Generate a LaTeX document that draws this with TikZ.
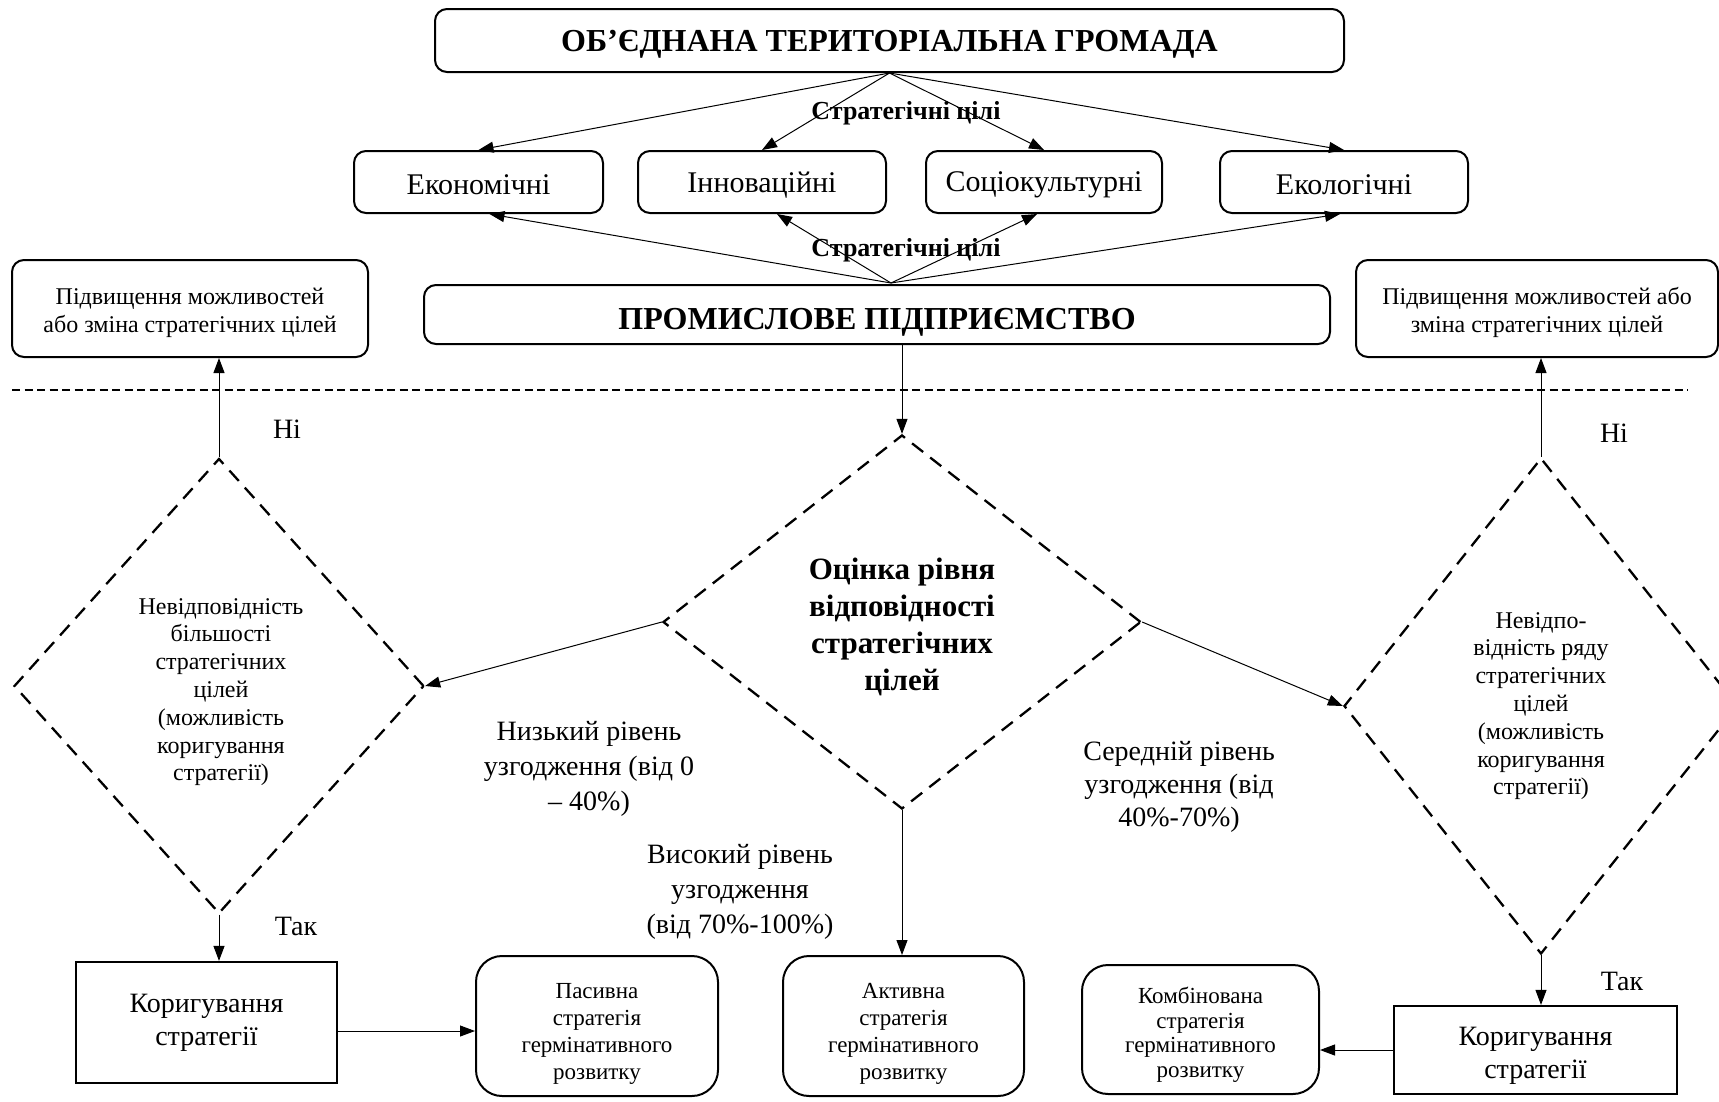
\documentclass[tikz,border=0pt]{standalone}
\usepackage{fontspec}
\setmainfont{Liberation Serif}
\usetikzlibrary{shapes.geometric,arrows.meta}
\newcommand\myfs[2]{\fontsize{#1}{#2}\selectfont}
\begin{document}
\begin{tikzpicture}[x=1pt,y=-1pt,
  box/.style={draw,line width=2pt,rounded corners=12pt,inner sep=0pt,align=center},
  bigbox/.style={draw,line width=2pt,rounded corners=26pt,inner sep=0pt,align=center},
  sqbox/.style={draw,line width=2.2pt,inner sep=0pt,align=center},
  dia/.style={draw,diamond,dash pattern=on 14pt off 9pt,line width=2.3pt,inner sep=0pt,align=center},
  arr/.style={-{Triangle[length=15pt,width=11pt]},line width=1pt},
  lab/.style={align=center,inner sep=0pt},
]
\useasboundingbox (0,0) rectangle (1719,1101);

% top level
\node[box,minimum width=909pt,minimum height=63pt,
  label={[lab,font={\bfseries\myfs{32}{38}},yshift=-4pt]center:ОБ’ЄДНАНА ТЕРИТОРІАЛЬНА ГРОМАДА}] (top) at (889.5,40.5) {};

\node[box,minimum width=249pt,minimum height=62pt,label={[lab,font=\myfs{30}{36},yshift=-3pt]center:Економічні}] (econ) at (478.5,182) {};
\node[box,minimum width=248pt,minimum height=62pt,label={[lab,font=\myfs{30}{36},yshift=-3pt]center:Інноваційні}] (innov) at (762,182) {};
\node[box,minimum width=236pt,minimum height=62pt,label={[lab,font=\myfs{30}{36},yshift=-3pt]center:Соціокультурні}] (socio) at (1044,182) {};
\node[box,minimum width=248pt,minimum height=62pt,label={[lab,font=\myfs{30}{36},yshift=-3pt]center:Екологічні}] (ecol) at (1344,182) {};

\node[box,minimum width=906pt,minimum height=59pt,
  label={[lab,font={\bfseries\myfs{32}{38}},yshift=-8pt]center:ПРОМИСЛОВЕ ПІДПРИЄМСТВО}] (prom) at (877,314.5) {};

\coordinate (psrc) at (891,283);

\draw[arr] (top.south) -- (econ.north);
\draw[arr] (top.south) -- (innov.north);
\draw[arr] (top.south) -- (socio.north);
\draw[arr] (top.south) -- (ecol.north);

\draw[arr] (psrc) -- ([xshift=11pt]econ.south);
\draw[arr] (psrc) -- ([xshift=15pt]innov.south);
\draw[arr] (psrc) -- ([xshift=-7pt]socio.south);
\draw[arr] (psrc) -- ([xshift=-4pt]ecol.south);

\node[lab,font={\bfseries\myfs{26}{30}}] (sc1) at (906,113) {Стратегічні цілі};
\node[lab,font={\bfseries\myfs{26}{30}}] (sc2) at (906,250) {Стратегічні цілі};

% side boxes
\node[box,minimum width=356pt,minimum height=97pt,
  label={[lab,font=\myfs{24}{28},yshift=-4pt]center:{Підвищення можливостей\\або зміна стратегічних цілей}}] (lbox) at (190,308.5) {};
\node[box,minimum width=362pt,minimum height=97pt,
  label={[lab,font=\myfs{24}{28},yshift=-4pt]center:{Підвищення можливостей або\\зміна стратегічних цілей}}] (rbox) at (1537,308.5) {};

% dashed separator
\coordinate (sepL) at (12,390);
\coordinate (sepR) at (1688,390);
\draw[line width=1.3pt,dash pattern=on 8pt off 4.5pt] (sepL) -- (sepR);

% diamonds
\node[dia,minimum width=478pt,minimum height=374pt,
  label={[lab,font={\bfseries\myfs{31}{37}},yshift=-5pt]center:{Оцінка рівня\\відповідності\\стратегічних\\цілей}}] (main) at (902,622) {};
\node[dia,minimum width=410pt,minimum height=455pt,
  label={[lab,font=\myfs{24}{27.8},xshift=2pt,yshift=-6pt]center:{Невідповідність\\більшості\\стратегічних\\цілей\\(можливість\\коригування\\стратегії)}}] (ldia) at (219,686) {};
\node[dia,minimum width=394pt,minimum height=496pt,
  label={[lab,font=\myfs{24}{27.8}]center:{Невідпо-\\відність ряду\\стратегічних\\цілей\\(можливість\\коригування\\стратегії)}}] (rdia) at (1541,706) {};

\draw[arr] (prom.south -| main.north) -- (main.north);
\draw[arr] (main.west) -- (ldia.east);
\draw[arr] (main.east) -- (rdia.west);

\draw[arr] (ldia.north) -- (ldia.north |- lbox.south);
\draw[arr] (rdia.north) -- (rdia.north |- rbox.south);

% bottom boxes
\node[sqbox,minimum width=261pt,minimum height=121pt,
  label={[lab,font=\myfs{28}{33}]center:{Коригування\\стратегії}}] (lkor) at (206.5,1022.5) {};
\node[bigbox,minimum width=242pt,minimum height=140pt,
  label={[lab,font=\myfs{23}{27},yshift=-8pt]center:{Пасивна\\стратегія\\гермінативного\\розвитку}}] (pas) at (597,1026) {};
\node[bigbox,minimum width=241pt,minimum height=140pt,
  label={[lab,font=\myfs{23}{27},yshift=-8pt]center:{Активна\\стратегія\\гермінативного\\розвитку}}] (act) at (903.5,1026) {};
\node[bigbox,minimum width=237pt,minimum height=129pt,
  label={[lab,font=\myfs{23}{24.5},yshift=-5pt]center:{Комбінована\\стратегія\\гермінативного\\розвитку}}] (komb) at (1200.5,1029.5) {};
\node[sqbox,minimum width=283pt,minimum height=88pt,
  label={[lab,font=\myfs{28}{33},yshift=-6pt]center:{Коригування\\стратегії}}] (rkor) at (1535.5,1050) {};

\draw[arr] (main.south) -- (main.south |- act.north);
\draw[arr] (ldia.south) -- (ldia.south |- lkor.north);
\draw[arr] (rdia.south) -- (rdia.south |- rkor.north);
\draw[arr] ([yshift=-8.5pt]lkor.east) -- ([yshift=-8.5pt]lkor.east -| pas.west);
\draw[arr] (rkor.west) -- (rkor.west -| komb.east);

% labels
\node[lab,font=\myfs{28}{34}] (ni1) at (287,429) {Ні};
\node[lab,font=\myfs{28}{34}] (ni2) at (1614,433) {Ні};
\node[lab,font=\myfs{28}{34}] (tak1) at (296,926) {Так};
\node[lab,font=\myfs{28}{34}] (tak2) at (1622,981) {Так};

\node[lab,font=\myfs{28}{35}] (low) at (589,769) {Низький рівень\\узгодження (від 0\\– 40\%)};
\node[lab,font=\myfs{28}{35}] (high) at (740,892) {Високий рівень\\узгодження\\(від 70\%-100\%)};
\node[lab,font=\myfs{28}{33}] (mid) at (1179,787) {Середній рівень\\узгодження (від\\40\%-70\%)};
\end{tikzpicture}
\end{document}
